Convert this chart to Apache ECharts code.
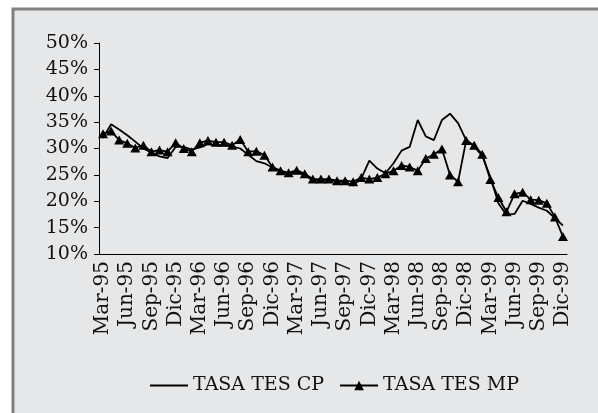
<!DOCTYPE html>
<html>
<head>
<meta charset="utf-8">
<script src="https://cdn.jsdelivr.net/npm/echarts@6/dist/echarts.min.js"></script>
<style>
    html, body { margin: 0; padding: 0; background: #ffffff; }
    #chart-tasas { width: 598px; height: 413px; }
</style>
</head>
<body>
<div id="chart-tasas"></div>
<script>
// months Mar-95 .. Dic-99
var meses = ['Ene', 'Feb', 'Mar', 'Abr', 'May', 'Jun', 'Jul', 'Ago', 'Sep', 'Oct', 'Nov', 'Dic'];
var anios = ['95', '96', '97', '98', '99'];
var yTicks = [10, 15, 20, 25, 30, 35, 40, 45, 50];

var tasaCP = [
    32.0, 34.6, 33.6, 32.5, 31.3, 30.0, 29.2, 28.5, 28.2, 30.3,
    30.3, 29.8, 30.2, 30.8, 30.6, 30.6, 30.4, 30.0, 28.8, 27.6,
    27.2, 26.4, 25.6, 25.2, 25.6, 24.9, 24.0, 24.0, 24.0, 23.8,
    23.6, 23.0, 24.3, 27.7, 26.2, 25.3, 27.2, 29.6, 30.3, 35.4,
    32.3, 31.6, 35.4, 36.6, 34.8, 31.6, 30.4, 28.6, 24.6, 19.6,
    17.4, 17.6, 20.1, 19.5, 18.8, 18.2, 16.8, 15.4
];
var tasaMP = [
    32.8, 33.3, 31.6, 31.0, 30.1, 30.6, 29.4, 29.7, 29.4, 31.1,
    30.0, 29.4, 31.1, 31.5, 31.2, 31.2, 30.6, 31.7, 29.4, 29.5,
    28.7, 26.5, 25.8, 25.4, 25.9, 25.2, 24.2, 24.2, 24.2, 23.9,
    23.9, 23.7, 24.5, 24.2, 24.5, 25.2, 25.8, 26.8, 26.5, 25.8,
    28.1, 28.9, 29.9, 25.0, 23.7, 31.5, 30.6, 28.9, 24.1, 20.7,
    18.0, 21.4, 21.7, 20.3, 20.2, 19.6, 17.0, 13.3
];

var categorias = [];
anios.forEach(function(a, k) {
    meses.forEach(function(m, j) {
        if (k === 0 && j < 2) return;
        categorias.push(m + '-' + a);
    });
});

var fuente = '"DejaVu Serif", "Liberation Serif", serif';

var dom = document.getElementById('chart-tasas');
var myChart = echarts.init(dom, null, { renderer: 'canvas' });
var option = {
    animation: false,
    backgroundColor: '#ffffff',
    graphic: [{
        // [ grey panel ] only left and top edges show
        type: 'rect',
        z: -10,
        shape: { x: 13, y: 9, width: 620, height: 440 },
        style: { fill: '#e6e7e8', stroke: '#808080', lineWidth: 3 }
    }],
    grid: {
        left: 99,
        right: 31,
        top: 43,
        bottom: 159
    },
    legend: {
        left: 144,
        top: 371,
        itemWidth: 38,
        itemHeight: 12,
        itemGap: 15,
        textStyle: { fontFamily: fuente, fontSize: 19, color: '#111' },
        data: [
            { name: 'TASA TES CP', itemStyle: { opacity: 0 } },
            { name: 'TASA TES MP' }
        ]
    },
    xAxis: {
        type: 'category',
        boundaryGap: true,
        data: categorias,
        axisLine: { lineStyle: { color: '#000', width: 1 } },
        axisTick: { interval: 2, length: 5, lineStyle: { color: '#000' } },
        axisLabel: {
            interval: 2,
            rotate: 90,
            margin: 7,
            fontFamily: fuente,
            fontSize: 20,
            color: '#111'
        },
        splitLine: { show: false }
    },
    yAxis: {
        type: 'value',
        min: yTicks[0],
        max: yTicks[yTicks.length - 1],
        interval: 5,
        axisLine: { show: true, lineStyle: { color: '#000', width: 1 } },
        axisTick: { show: true, length: 5, lineStyle: { color: '#000' } },
        axisLabel: {
            formatter: '{value}%',
            margin: 11,
            fontFamily: fuente,
            fontSize: 19,
            color: '#111'
        },
        splitLine: { show: false }
    },
    series: [
        {
            name: 'TASA TES CP',
            type: 'line',
            data: tasaCP,
            symbol: 'none',
            color: '#000',
            lineStyle: { color: '#000', width: 1.8 }
        },
        {
            name: 'TASA TES MP',
            type: 'line',
            data: tasaMP,
            symbol: 'triangle',
            symbolSize: [10, 9],
            showAllSymbol: true,
            color: '#000',
            itemStyle: { color: '#000' },
            lineStyle: { color: '#000', width: 1.8 }
        }
    ]
};

if (option && typeof option === 'object') {
    myChart.setOption(option);
}
</script>
</body>
</html>
